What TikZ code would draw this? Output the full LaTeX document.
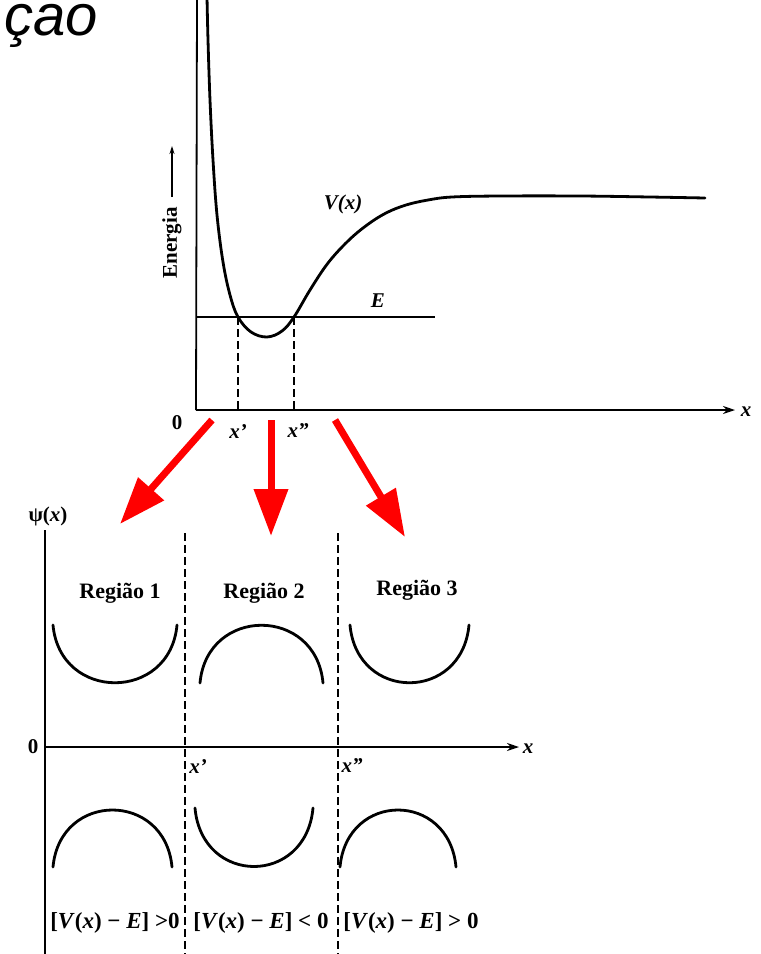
\documentclass[tikz,border=0pt]{standalone}
\usepackage{fontspec}
\setmainfont{Liberation Serif}
\newfontfamily\titlefont{Liberation Sans}
\usetikzlibrary{arrows.meta}
\begin{document}
\begin{tikzpicture}[x=1pt,y=-1pt,
  axis/.style={line width=1.8pt},
  axisarrow/.style={line width=1.8pt,-{Stealth[length=12pt,width=8pt]}},
  curve/.style={line width=2.8pt,line cap=round},
  eline/.style={line width=1.5pt},
  dashline/.style={line width=1.6pt,dash pattern=on 8pt off 4pt},
  redarrow/.style={red,line width=7pt,-{Triangle[length=47pt,width=33pt]}},
  lbl/.style={font=\bfseries\fontsize{21}{21}\selectfont,inner sep=0pt},
  ilbl/.style={font=\bfseries\itshape\fontsize{21}{21}\selectfont,inner sep=0pt},
  reg/.style={font=\bfseries\fontsize{22}{22}\selectfont,inner sep=0pt},
  cond/.style={font=\bfseries\fontsize{23}{23}\selectfont,inner sep=0pt},
  wave/.style={line width=2.8pt,line cap=round}]
\useasboundingbox (0,0) rectangle (761,954);

% title fragment
\node[font=\titlefont\itshape\fontsize{58}{58}\selectfont,anchor=base west,inner sep=0pt] (title) at (4,35) {çao};

% ---------- top plot ----------
\coordinate (O1) at (196,410);
\coordinate (Ytop) at (197,0);
\coordinate (Xend) at (735,410);
\draw[axis] (O1) -- (Ytop);
\draw[axisarrow] (O1) -- (Xend);
\node[ilbl] (xlab1) at (746,412) {x};
\node[lbl] (zero1) at (177,423) {0};

\coordinate (Estart) at (196,317);
\coordinate (Eend) at (435,317);
\draw[eline] (Estart) -- (Eend);
\node[ilbl] (Elab) at (378,301) {E};

\draw[curve] plot[smooth,tension=0.6] coordinates {
 (207,-3) (208,40) (210,100) (213,160) (217,215) (223,262) (230,295)
 (238,317) (251,332) (267,337) (282,331) (294,317) (310,290) (328,263)
 (348,241) (367,225) (386,213) (406,205) (428,200) (452,197) (500,196) (580,196) (650,197) (705,198)};
\node[ilbl] (Vlab) at (343,204) {V(x)};

\coordinate (xp1) at (238,317);
\coordinate (xpp1) at (294,317);
\coordinate (xp1b) at (238,410);
\coordinate (xpp1b) at (294,410);
\draw[dashline] (xp1) -- (xp1b);
\draw[dashline] (xpp1) -- (xpp1b);
\node[ilbl] (xplab1) at (238,432) {x'};
\node[ilbl] (xpplab1) at (298,431) {x''};

\node[lbl,rotate=90] (energia) at (172,243) {Energia};
\coordinate (ea1) at (172,197);
\coordinate (ea2) at (172,146);
\draw[line width=1.2pt,-{Stealth[length=8pt,width=5pt]}] (ea1) -- (ea2);

% ---------- red arrows ----------
\coordinate (r1s) at (212,420);
\coordinate (r1e) at (120,524);
\coordinate (r2s) at (271,420);
\coordinate (r2e) at (271,536);
\coordinate (r3s) at (335,420);
\coordinate (r3e) at (405,537);
\draw[redarrow] (r1s) -- (r1e);
\draw[redarrow] (r2s) -- (r2e);
\draw[redarrow] (r3s) -- (r3e);

% ---------- bottom plot ----------
\coordinate (O2) at (45,747);
\coordinate (Y2top) at (45,530);
\coordinate (Y2bot) at (45,956);
\coordinate (X2end) at (519,747);
\draw[axis] (Y2top) -- (Y2bot);
\draw[axisarrow] (O2) -- (X2end);
\node[lbl] (psilab) at (48,516) {ψ(\textit{x})};
\node[lbl] (zero2) at (33,747) {0};
\node[ilbl] (xlab2) at (528,749) {x};

\coordinate (d1t) at (185,533);
\coordinate (d1b) at (185,956);
\coordinate (d2t) at (338,533);
\coordinate (d2b) at (338,956);
\draw[dashline] (d1t) -- (d1b);
\draw[dashline] (d2t) -- (d2b);
\node[ilbl] (xplab2) at (198,767) {x'};
\node[ilbl] (xpplab2) at (352,766) {x''};

\node[reg] (reg1) at (120,593) {Região 1};
\node[reg] (reg2) at (264,593) {Região 2};
\node[reg] (reg3) at (417,590) {Região 3};

% upper arcs
\draw[wave] (53,625) .. controls (60,702) and (170,702) .. (177,625);
\draw[wave] (200,683) .. controls (207,606) and (316,606) .. (323,683);
\draw[wave] (350,625) .. controls (357,702) and (462,702) .. (469,625);
% lower arcs
\draw[wave] (53,867) .. controls (60,791) and (165,791) .. (172,867);
\draw[wave] (195,808) .. controls (202,886) and (306,886) .. (313,808);
\draw[wave] (340,867) .. controls (347,791) and (449,791) .. (456,867);

\node[cond] (c1) at (115,923) {[\textit{V}(\textit{x}) − \textit{E}] >0};
\node[cond] (c2) at (261,923) {[\textit{V}(\textit{x}) − \textit{E}] < 0};
\node[cond] (c3) at (411,923) {[\textit{V}(\textit{x}) − \textit{E}] > 0};
\end{tikzpicture}
\end{document}
